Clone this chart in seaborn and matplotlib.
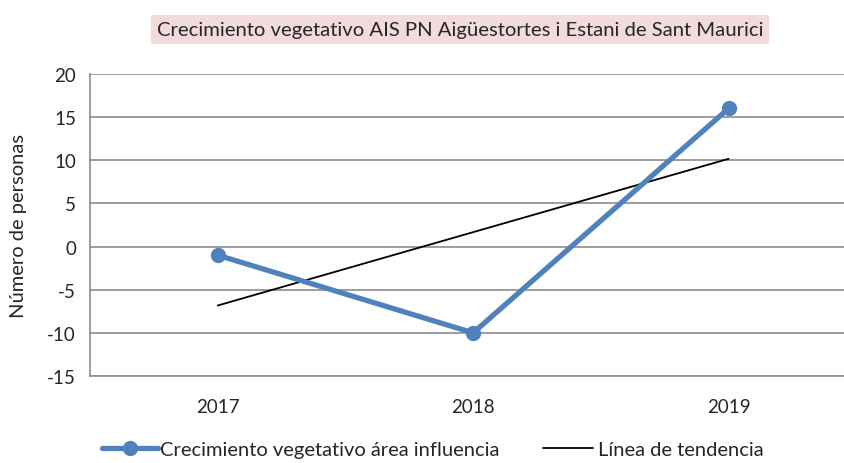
import pandas as pd
import matplotlib.pyplot as plt
import seaborn as sns

# Data
years = ["2017", "2018", "2019"]
crecimiento = [-1, -10, 16]

title = "Crecimiento vegetativo AIS PN Aigüestortes i Estani de Sant Maurici"
serie_label = "Crecimiento vegetativo área influencia"
trend_label = "Línea de tendencia"

df = pd.DataFrame({"pos": range(len(years)), "year": years, "valor": crecimiento})

sns.set_style("white")
plt.rcParams['font.family'] = ['Lato', 'DejaVu Sans']
plt.rcParams['axes.unicode_minus'] = False

fig = plt.figure(figsize=(8.44, 4.64), dpi=100)
ax = fig.add_axes([0.1066, 0.1875, 0.908, 0.651])

grid_col = "#8c8c8c"
ax.set_axisbelow(True)
ax.yaxis.grid(True, color=grid_col, linewidth=1.2)

# trend line (least squares through the data)
sns.regplot(data=df, x="pos", y="valor", ax=ax, scatter=False, ci=None,
            line_kws={"color": "black", "linewidth": 1.3}, label=trend_label)

sns.lineplot(data=df, x="pos", y="valor", ax=ax, color="#4f81bd", linewidth=3.8,
             marker="o", markersize=11, markeredgewidth=0, label=serie_label)

ax.set_xlim(-0.5, 2.5)
ax.set_ylim(-15, 20)
ax.set_yticks(range(-15, 21, 5))
ax.set_xticks(df["pos"])
ax.set_xticklabels(years)
ax.set_xlabel("")
ax.set_ylabel("Número de personas", fontsize=14.5)
ax.yaxis.set_label_coords(-0.082, 0.5)
ax.tick_params(axis="both", labelsize=13.5, length=0)
ax.tick_params(axis="x", pad=16)
ax.tick_params(axis="y", pad=10)

for s in ["top", "right"]:
    ax.spines[s].set_visible(False)
for s in ["left", "bottom"]:
    ax.spines[s].set_color(grid_col)
    ax.spines[s].set_linewidth(1.2)

fig.text(0.545, 0.935, title, ha="center", va="center", fontsize=14.6,
         bbox=dict(boxstyle="square,pad=0.3", facecolor="#f2dcdb", edgecolor="none"))

handles, labels = ax.get_legend_handles_labels()
ax.legend().remove()
h_serie = handles[labels.index(serie_label)]
h_trend = handles[labels.index(trend_label)]
leg1 = fig.legend([h_serie], [serie_label], loc="center left",
                  bbox_to_anchor=(0.1209, 0.03), frameon=False, borderpad=0,
                  borderaxespad=0, fontsize=14.5, handlelength=2.8, handletextpad=0.1)
fig.legend([h_trend], [trend_label], loc="center left",
           bbox_to_anchor=(0.6434, 0.03), frameon=False, borderpad=0,
           borderaxespad=0, fontsize=14.5, handlelength=2.5, handletextpad=0.25)

fig.savefig("out.png", dpi=100)
